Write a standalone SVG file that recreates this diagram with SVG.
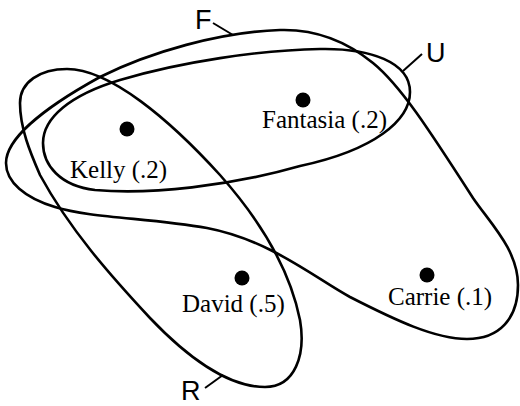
<svg xmlns="http://www.w3.org/2000/svg" width="520" height="406" viewBox="0 0 520 406">
<style>
.set{fill:none;stroke:#000;stroke-width:2.6;stroke-linejoin:round}
.lead{stroke:#000;stroke-width:2;fill:none}
.lbl{font-family:"Liberation Sans",Arial,sans-serif;font-size:27px;fill:#000}
.name{font-family:"Liberation Serif","Times New Roman",serif;font-size:25px;fill:#000}
.dot{fill:#000}
</style>
<rect width="520" height="406" fill="#fff"/>
<g id="set-F">
<path class="set" d="M280,30 C315,29 345,40 373,63 C400,85 428,128 473,198 C490,223 518,250 518,285 C518,318 500,339 467,339 C435,339 395,320 350,297 C315,278 270,240 207,228 C150,218 90,218 55,207 C25,198 6,182 6,163 C6,140 40,110 100,77 C150,52 220,32 280,30 Z"/>
<text class="lbl" x="195" y="29">F</text>
</g>
<g id="set-U">
<path class="set" d="M43,143 C43,118 70,95 120,80 C180,62 260,50 320,49 C370,48 410,62 410,92 C410,120 375,150 300,166 C230,186 150,195 95,190 C60,186 43,165 43,143 Z"/>
<text class="lbl" x="426" y="62">U</text>
</g>
<g id="set-R">
<path class="set" d="M20,103 C20,82 40,69 67,69 C110,69 170,120 220,175 C260,220 290,270 300,320 C306,355 295,387 265,387 C230,387 190,360 150,318 C110,275 70,230 40,175 C30,152 20,128 20,103 Z"/>
<text class="lbl" x="181" y="400">R</text>
</g>
<g id="connectors">
<line class="lead" x1="213" y1="23" x2="233" y2="35"/>
<line class="lead" x1="403" y1="71" x2="422" y2="54"/>
<line class="lead" x1="205" y1="388" x2="223" y2="375"/>
</g>
<g id="kelly">
<circle class="dot" cx="127" cy="129" r="7.5"/>
<text class="name" x="70" y="178">Kelly (.2)</text>
</g>
<g id="fantasia">
<circle class="dot" cx="303" cy="100" r="7.5"/>
<text class="name" x="262" y="128">Fantasia (.2)</text>
</g>
<g id="david">
<circle class="dot" cx="242" cy="278" r="7.5"/>
<text class="name" x="182" y="312">David (.5)</text>
</g>
<g id="carrie">
<circle class="dot" cx="427" cy="275" r="7.5"/>
<text class="name" x="388" y="305">Carrie (.1)</text>
</g>
</svg>
